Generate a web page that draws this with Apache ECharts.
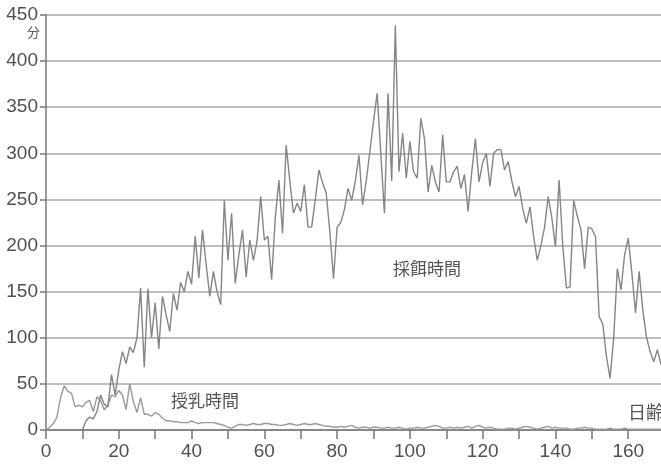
<!DOCTYPE html>
<html>
<head>
<meta charset="utf-8">
<script src="https://cdn.jsdelivr.net/npm/echarts@6/dist/echarts.min.js"></script>
<style>
  html, body { margin: 0; padding: 0; background: #fff; }
  #chart { width: 661px; height: 464px; }
</style>
</head>
<body>
<div id="chart"></div>
<script>
// Daily foraging time (minutes), from day 10 to day 169
const forageStartDay = 10;
const forageMinutes = [
  0, 10, 14, 12, 20, 38, 28, 25, 60, 38,
  65, 85, 72, 90, 84, 100, 154, 68, 153, 100,
  138, 88, 145, 125, 107, 148, 130, 160, 150, 172,
  158, 210, 165, 217, 180, 145, 172, 150, 136, 249,
  184, 235, 159, 190, 217, 166, 206, 184, 205, 253,
  206, 210, 163, 230, 271, 213, 309, 270, 235, 246,
  237, 266, 220, 220, 250, 282, 268, 257, 215, 164,
  220, 225, 239, 262, 249, 270, 298, 244, 270, 302,
  335, 365, 300, 235, 365, 270, 439, 280, 322, 273,
  313, 280, 273, 338, 316, 258, 287, 269, 258, 320,
  269, 269, 280, 286, 262, 277, 237, 280, 316, 269,
  290, 300, 264, 300, 304, 304, 282, 291, 270, 253,
  264, 240, 224, 242, 210, 184, 200, 220, 253, 230,
  199, 271, 200, 154, 155, 249, 232, 217, 175, 220,
  218, 210, 123, 115, 80, 56, 100, 175, 152, 190,
  208, 170, 127, 172, 130, 101, 85, 74, 87, 71
];

// Daily nursing time (minutes), from day 0 to day 169
const nurseStartDay = 0;
const nurseMinutes = [
  0, 3, 7, 14, 35, 48, 42, 40, 25, 27,
  25, 30, 32, 20, 36, 32, 22, 27, 38, 36,
  43, 38, 22, 50, 31, 19, 35, 17, 17, 15,
  19, 17, 13, 10, 10, 9, 9, 8, 8, 8,
  10, 8, 7, 8, 8, 8, 8, 7, 6, 5,
  3, 2, 4, 6, 6, 5, 6, 7, 6, 6,
  7, 7, 6, 6, 5, 5, 6, 7, 6, 5,
  6, 7, 6, 6, 7, 6, 5, 4, 4, 3,
  3, 4, 3, 4, 5, 3, 2, 3, 3, 2,
  3, 3, 2, 2, 3, 2, 2, 3, 2, 1,
  2, 2, 3, 2, 2, 3, 4, 5, 4, 2,
  2, 3, 2, 3, 2, 3, 4, 2, 4, 5,
  3, 2, 3, 2, 1, 1, 1, 2, 2, 1,
  2, 3, 4, 3, 2, 1, 2, 3, 4, 2,
  3, 2, 2, 2, 1, 1, 2, 2, 3, 2,
  2, 1, 1, 1, 1, 2, 1, 1, 1, 2,
  1, 1, 1, 1, 1, 1, 1, 1, 1, 1
];

const yTicks = [0, 50, 100, 150, 200, 250, 300, 350, 400, 450];
const xLabelStep = 20;

const toPairs = (start, vals) => vals.map((v, i) => [start + i, v]);

const numFont = 'Liberation Sans, Arial, sans-serif';
const cjkFont = 'Noto Sans CJK JP, sans-serif';

const chart = echarts.init(document.getElementById('chart'), null, { renderer: 'canvas' });
chart.setOption({
  animation: false,
  backgroundColor: '#fff',
  grid: { left: 46, right: 0, top: 15, bottom: 34 },
  xAxis: {
    type: 'value',
    min: 0,
    max: 169,
    interval: 10,
    axisLine: { show: true, onZero: false, lineStyle: { color: '#777', width: 1.5 } },
    axisTick: { show: true, length: 9, lineStyle: { color: '#777', width: 1.5 } },
    axisLabel: {
      margin: 12,
      color: '#505050',
      fontFamily: numFont,
      fontSize: 19,
      showMaxLabel: false,
      formatter: v => (v % xLabelStep === 0 ? String(v) : '')
    },
    splitLine: { show: false }
  },
  yAxis: {
    type: 'value',
    min: yTicks[0],
    max: yTicks[yTicks.length - 1],
    interval: 50,
    axisLine: { show: true, lineStyle: { color: '#777', width: 1.5 } },
    axisTick: { show: true, inside: false, length: 6, lineStyle: { color: '#777', width: 1.5 } },
    axisLabel: {
      margin: 8,
      color: '#505050',
      fontFamily: numFont,
      fontSize: 19
    },
    splitLine: { show: true, lineStyle: { color: '#a8a8a8', width: 1.5 } }
  },
  series: [
    {
      name: '採餌時間',
      type: 'line',
      data: toPairs(forageStartDay, forageMinutes),
      showSymbol: false,
      lineStyle: { color: '#858585', width: 1.4 },
      z: 3
    },
    {
      name: '授乳時間',
      type: 'line',
      data: toPairs(nurseStartDay, nurseMinutes),
      showSymbol: false,
      lineStyle: { color: '#9a9a9a', width: 1.4 },
      z: 2
    }
  ],
  graphic: [
    { type: 'text', left: 27, top: 26, style: { text: '分', fill: '#555', font: '13px ' + cjkFont } },
    { type: 'text', left: 393, top: 260, style: { text: '採餌時間', fill: '#555', font: '17px ' + cjkFont } },
    { type: 'text', left: 171, top: 392, style: { text: '授乳時間', fill: '#555', font: '17px ' + cjkFont } },
    { type: 'text', left: 628, top: 403, style: { text: '日齢', fill: '#555', font: '18px ' + cjkFont } }
  ]
});
</script>
</body>
</html>
